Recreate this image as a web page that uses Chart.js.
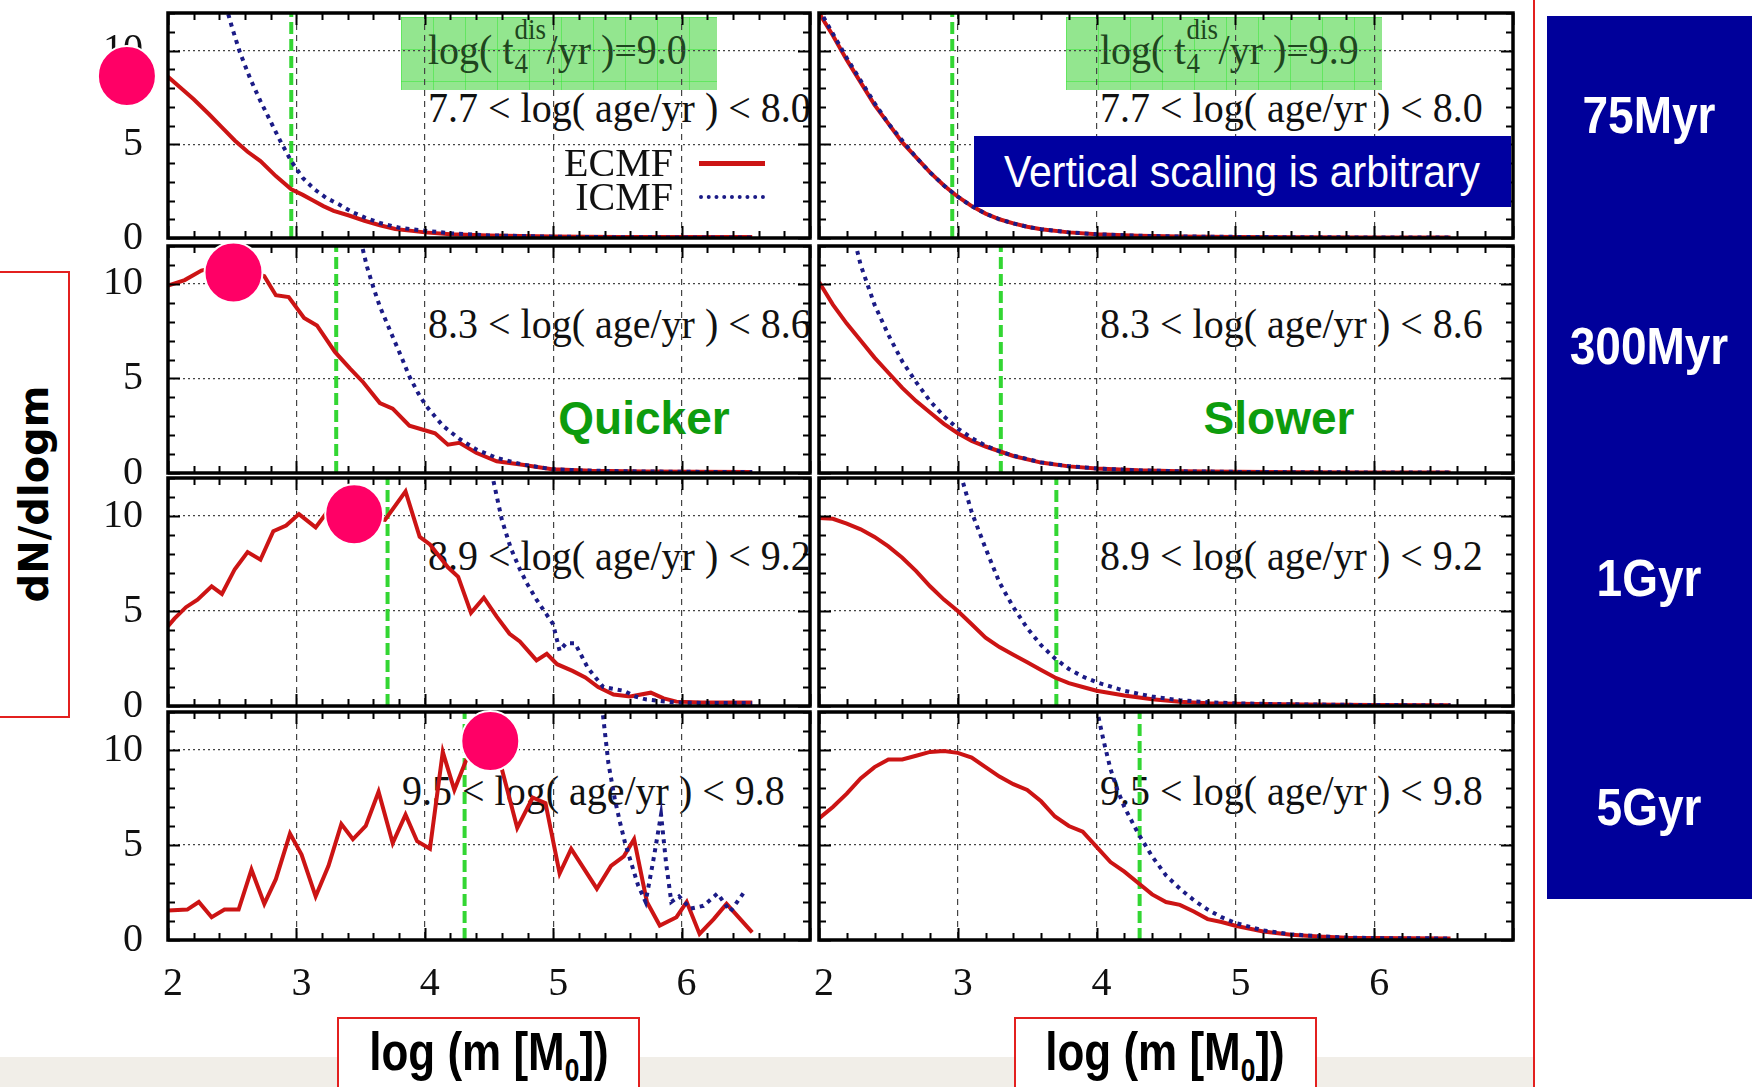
<!DOCTYPE html>
<html>
<head>
<meta charset="utf-8">
<title>ECMF vs ICMF</title>
<script src="https://cdn.jsdelivr.net/npm/chart.js@4.4.1/dist/chart.umd.min.js"></script>
<style>
  body { margin: 0; width: 1752px; height: 1087px; position: relative; overflow: hidden; background: #fff; }
  canvas { position: absolute; z-index: 2; }
  .t { position: absolute; white-space: nowrap; line-height: 1; }
  .back { z-index: 1; }
  .front { z-index: 3; }
  .serif { font-family: "Liberation Serif", serif; font-size: 40px; color: #111; }
  .sans { font-family: "Liberation Sans", Arial, sans-serif; font-weight: bold; }
  .greenbox { position: absolute; z-index: 1; top: 17px; width: 316px; height: 73px;
    background-color: #93e68f;
    background-image: linear-gradient(rgba(60,230,60,.55) 1px, transparent 1px),
                      linear-gradient(90deg, rgba(60,230,60,.55) 1px, transparent 1px);
    background-size: 32px 32px; }
  .ss { display: inline-block; position: relative; width: 33px; height: 0; }
  .ss span { position: absolute; left: 1px; font-size: 27px; line-height: 1; }
  .ss .up { top: -45px; }
  .ss .dn { top: -14px; }
  .agecol { position: absolute; z-index: 3; left: 1547px; top: 16px; width: 205px; height: 883px; background: #00009a; }
  .agecol div { position: absolute; left: 102px; color: #fff; font-size: 46px; transform: translate(-50%, -50%) scaleY(1.12); }
  .redbox { position: absolute; z-index: 3; border: 2px solid #e3201f; background: #fff; }
</style>
</head>
<body>

<div class="t back" style="left:0;top:1057px;width:1533px;height:30px;background:#f1eee8"></div>
<div class="t front" style="left:1533px;top:0;width:2px;height:1087px;background:#e3201f"></div>

<div class="greenbox" style="left:401px"></div>
<div class="greenbox" style="left:1066px"></div>
<div class="t back serif" id="t4a" style="left:428px;top:50px;transform:translateY(-50%) scaleY(1.08);color:#1e461e"></div>
<div class="t back serif" id="t4b" style="left:1100px;top:50px;transform:translateY(-50%) scaleY(1.08);color:#1e461e"></div>

<div class="t back sans" style="left:644px;top:418px;font-size:46px;color:#0d9c0d;transform:translate(-50%,-50%)">Quicker</div>
<div class="t back sans" style="left:1279px;top:418px;font-size:46px;color:#0d9c0d;transform:translate(-50%,-50%)">Slower</div>

<div class="t front" style="left:974px;top:136px;width:537px;height:71px;background:#0000a0"></div>
<div class="t front" style="left:1242px;top:172px;font-family:'Liberation Sans',Arial,sans-serif;font-size:41px;color:#fff;transform:translate(-50%,-50%) scaleY(1.08)">Vertical scaling is arbitrary</div>

<div class="t front serif" style="left:673px;top:163px;transform:translate(-100%,-50%)">ECMF</div>
<div class="t front serif" style="left:673px;top:197px;transform:translate(-100%,-50%)">ICMF</div>
<div class="t front" style="left:699px;top:161px;width:66px;height:0;border-top:5px solid #cc1414"></div>
<div class="t front" style="left:699px;top:195px;width:66px;height:0;border-top:4px dotted #1b1b86"></div>

<div class="agecol sans" id="agecol"></div>

<div class="redbox" style="left:-2px;top:271px;width:68px;height:443px"></div>
<div class="t front" style="left:34px;top:494px;font-family:'DejaVu Sans',sans-serif;font-weight:bold;font-size:40px;color:#000;transform:translate(-50%,-50%) rotate(-90deg)">dN/dlogm</div>

<div class="redbox" style="left:337px;top:1017px;width:299px;height:90px"></div>
<div class="redbox" style="left:1014px;top:1017px;width:299px;height:90px"></div>
<div class="t front sans" style="left:489px;top:1056px;font-size:44px;color:#000;transform:translate(-50%,-50%) scaleY(1.2)">log (m [M<sub style="font-size:0.6em">0</sub>])</div>
<div class="t front sans" style="left:1165px;top:1056px;font-size:44px;color:#000;transform:translate(-50%,-50%) scaleY(1.2)">log (m [M<sub style="font-size:0.6em">0</sub>])</div>

<script>
// axes
const xTicks = [2, 3, 4, 5, 6];
const yTicks = [0, 5, 10];
const xMin = 2, xMax = 7, yMax = 12;

// labels
const t4Values = ['9.0', '9.9'];
const ageBins = ['7.7 < log( age/yr ) < 8.0', '8.3 < log( age/yr ) < 8.6',
                 '8.9 < log( age/yr ) < 9.2', '9.5 < log( age/yr ) < 9.8'];
const ageNames = ['75Myr', '300Myr', '1Gyr', '5Gyr'];

// green dashed line (log m) per age row
const turnover = [2.96, 3.31, 3.71, 4.31];

// pink markers on the quicker column
const dotX = [1.68, 2.51, 3.45, 4.51];
const dotY = [8.64, 10.6, 10.09, 10.47];

// quicker disruption, log(t4/yr) = 9.0
const ecmfQ1 = [[2.0,8.6],[2.1,8.0],[2.2,7.4],[2.32,6.6],[2.42,5.9],[2.52,5.2],[2.62,4.6],[2.72,4.1],[2.84,3.3],[2.96,2.6],[3.05,2.3],[3.13,2.0],[3.21,1.7],[3.29,1.45],[3.41,1.2],[3.53,0.92],[3.65,0.68],[3.77,0.48],[3.9,0.38],[4.0,0.3],[4.2,0.2],[4.5,0.13],[5.0,0.08],[5.5,0.06],[6.0,0.05],[6.55,0.05]];
const icmfQ1 = [[2.45,12.4],[2.5,11.2],[2.56,9.9],[2.64,8.5],[2.72,7.3],[2.8,6.2],[2.88,5.1],[2.96,4.1],[3.05,3.2],[3.14,2.6],[3.23,2.15],[3.33,1.8],[3.43,1.4],[3.53,1.1],[3.65,0.8],[3.8,0.55],[4.0,0.39],[4.2,0.25],[4.5,0.14],[5.0,0.07],[5.5,0.04],[6.0,0.03],[6.55,0.03]];
const ecmfQ2 = [[2.0,9.9],[2.13,10.2],[2.26,10.7],[2.4,10.9],[2.5,10.8],[2.62,10.7],[2.75,10.4],[2.84,9.4],[2.94,9.3],[3.06,8.2],[3.16,7.8],[3.3,6.4],[3.42,5.5],[3.52,4.8],[3.65,3.7],[3.75,3.4],[3.88,2.5],[3.98,2.3],[4.08,2.1],[4.18,1.5],[4.27,1.6],[4.4,1.07],[4.56,0.62],[4.76,0.44],[4.99,0.2],[5.3,0.12],[5.7,0.08],[6.1,0.06],[6.55,0.05]];
const icmfQ2 = [[3.5,12.3],[3.55,10.9],[3.6,9.8],[3.65,8.8],[3.7,8.0],[3.75,7.2],[3.82,6.1],[3.88,5.1],[3.95,4.2],[4.01,3.55],[4.14,2.5],[4.27,1.8],[4.4,1.25],[4.56,0.8],[4.76,0.45],[4.99,0.2],[5.3,0.12],[5.7,0.08],[6.1,0.06],[6.55,0.05]];
const ecmfQ3 = [[2.0,4.2],[2.05,4.6],[2.14,5.2],[2.23,5.6],[2.34,6.3],[2.42,5.9],[2.52,7.2],[2.62,8.1],[2.72,7.7],[2.82,9.2],[2.92,9.5],[3.02,10.1],[3.15,9.4],[3.25,10.3],[3.35,10.0],[3.45,10.4],[3.57,9.9],[3.69,9.8],[3.85,11.3],[3.96,8.9],[4.04,8.5],[4.18,7.3],[4.26,6.8],[4.36,4.9],[4.46,5.7],[4.56,4.7],[4.66,3.8],[4.74,3.4],[4.87,2.4],[4.95,2.75],[5.03,2.2],[5.15,1.85],[5.25,1.5],[5.35,1.0],[5.47,0.6],[5.6,0.5],[5.76,0.7],[5.86,0.4],[5.96,0.23],[6.16,0.18],[6.55,0.18]];
const icmfQ3 = [[4.52,12.3],[4.6,9.8],[4.67,8.3],[4.74,7.2],[4.8,6.4],[4.87,5.6],[4.94,4.9],[5.0,4.3],[5.05,2.9],[5.1,3.3],[5.17,3.3],[5.27,2.0],[5.39,1.0],[5.47,0.9],[5.55,0.8],[5.64,0.5],[5.72,0.35],[5.85,0.25],[5.96,0.18],[6.2,0.16],[6.55,0.15]];
const ecmfQ4 = [[2.0,1.55],[2.15,1.6],[2.24,2.0],[2.34,1.2],[2.44,1.6],[2.55,1.6],[2.65,3.7],[2.75,1.9],[2.84,3.2],[2.95,5.6],[3.04,4.5],[3.15,2.3],[3.25,3.9],[3.35,6.1],[3.44,5.3],[3.54,6.0],[3.64,7.8],[3.75,5.1],[3.85,6.6],[3.94,5.2],[4.04,4.8],[4.14,9.9],[4.23,7.9],[4.33,9.6],[4.42,10.6],[4.53,12.4],[4.6,9.0],[4.72,5.9],[4.84,7.5],[4.94,7.2],[5.05,3.5],[5.14,4.8],[5.34,2.7],[5.45,3.9],[5.55,4.4],[5.63,5.3],[5.73,2.0],[5.83,0.76],[5.96,1.2],[6.04,2.0],[6.14,0.32],[6.25,1.1],[6.35,1.9],[6.55,0.4]];
const icmfQ4 = [[5.38,12.3],[5.43,9.3],[5.48,7.4],[5.52,6.2],[5.56,5.1],[5.61,4.0],[5.66,2.9],[5.72,2.0],[5.78,4.2],[5.84,6.6],[5.88,4.0],[5.92,2.0],[5.98,2.3],[6.07,1.65],[6.17,1.8],[6.28,2.45],[6.38,1.5],[6.48,2.45]];

// slower disruption, log(t4/yr) = 9.9
const ecmfS1 = [[2.0,12.0],[2.1,10.8],[2.2,9.5],[2.3,8.3],[2.4,7.1],[2.5,6.1],[2.6,5.1],[2.7,4.3],[2.8,3.5],[2.9,2.8],[3.0,2.2],[3.1,1.7],[3.2,1.3],[3.3,1.0],[3.4,0.78],[3.5,0.6],[3.6,0.47],[3.8,0.3],[4.0,0.2],[4.3,0.12],[4.6,0.08],[5.0,0.06],[5.5,0.04],[6.0,0.03],[6.55,0.03]];
const icmfS1 = [[2.0,12.2],[2.1,10.9],[2.2,9.6],[2.3,8.4],[2.4,7.2],[2.5,6.1],[2.6,5.2],[2.7,4.3],[2.8,3.5],[2.9,2.8],[3.0,2.2],[3.1,1.7],[3.2,1.3],[3.3,1.0],[3.4,0.78],[3.5,0.6],[3.6,0.47],[3.8,0.3],[4.0,0.2],[4.3,0.12],[4.6,0.08],[5.0,0.06],[5.5,0.04],[6.0,0.03],[6.55,0.03]];
const ecmfS2 = [[2.0,10.1],[2.1,8.9],[2.2,7.9],[2.3,7.0],[2.4,6.1],[2.5,5.3],[2.6,4.5],[2.7,3.8],[2.8,3.2],[2.9,2.6],[3.0,2.1],[3.1,1.7],[3.2,1.4],[3.3,1.15],[3.4,0.9],[3.6,0.55],[3.8,0.35],[4.0,0.24],[4.3,0.14],[4.6,0.09],[5.0,0.06],[5.5,0.04],[6.0,0.03],[6.55,0.03]];
const icmfS2 = [[2.26,12.2],[2.3,11.0],[2.4,8.9],[2.5,7.3],[2.6,5.9],[2.7,4.8],[2.8,3.8],[2.9,3.0],[3.0,2.35],[3.1,1.85],[3.2,1.45],[3.3,1.15],[3.4,0.92],[3.6,0.56],[3.8,0.36],[4.0,0.24],[4.3,0.14],[4.6,0.09],[5.0,0.06],[5.5,0.04],[6.0,0.03],[6.55,0.03]];
const ecmfS3 = [[2.0,9.9],[2.1,9.85],[2.2,9.6],[2.3,9.3],[2.4,8.9],[2.5,8.4],[2.6,7.8],[2.7,7.1],[2.8,6.3],[2.9,5.6],[3.0,5.0],[3.1,4.3],[3.2,3.6],[3.3,3.1],[3.4,2.7],[3.5,2.3],[3.6,1.9],[3.7,1.5],[3.8,1.2],[3.9,1.0],[4.0,0.8],[4.2,0.55],[4.4,0.35],[4.6,0.22],[4.8,0.15],[5.0,0.12],[5.5,0.08],[6.0,0.05],[6.55,0.04]];
const icmfS3 = [[3.02,12.2],[3.1,10.2],[3.2,8.3],[3.3,6.5],[3.4,5.2],[3.5,4.1],[3.6,3.2],[3.7,2.5],[3.8,1.95],[3.9,1.55],[4.0,1.25],[4.2,0.8],[4.4,0.5],[4.6,0.3],[4.8,0.2],[5.0,0.14],[5.5,0.08],[6.0,0.05],[6.55,0.04]];
const ecmfS4 = [[2.0,6.4],[2.1,7.0],[2.2,7.7],[2.3,8.5],[2.4,9.1],[2.5,9.5],[2.6,9.5],[2.7,9.7],[2.8,9.9],[2.9,9.95],[3.0,9.85],[3.1,9.6],[3.2,9.1],[3.3,8.6],[3.4,8.2],[3.5,7.9],[3.6,7.3],[3.7,6.5],[3.8,6.0],[3.9,5.7],[4.0,4.9],[4.1,4.1],[4.2,3.6],[4.3,3.0],[4.4,2.4],[4.5,2.0],[4.6,1.85],[4.7,1.5],[4.8,1.1],[4.9,0.95],[5.0,0.75],[5.2,0.45],[5.4,0.28],[5.6,0.18],[5.8,0.12],[6.0,0.1],[6.55,0.08]];
const icmfS4 = [[4.0,12.2],[4.05,10.5],[4.1,9.0],[4.15,7.9],[4.2,7.0],[4.3,5.6],[4.4,4.4],[4.5,3.4],[4.6,2.7],[4.7,2.1],[4.8,1.6],[4.9,1.2],[5.0,0.9],[5.2,0.5],[5.4,0.3],[5.6,0.2],[5.8,0.13],[6.0,0.1],[6.55,0.08]];

const ecmf = [[ecmfQ1, ecmfQ2, ecmfQ3, ecmfQ4], [ecmfS1, ecmfS2, ecmfS3, ecmfS4]];
const icmf = [[icmfQ1, icmfQ2, icmfQ3, icmfQ4], [icmfS1, icmfS2, icmfS3, icmfS4]];

// page layout (pixels)
const colBox = [{ left: 168, right: 810, canvasLeft: 0, textLeft: [428, 428, 428, 402] },
                { left: 819, right: 1513, canvasLeft: 790, textLeft: [1100, 1100, 1100, 1100] }];
const rowBox = [[13, 238], [246, 473], [478, 706], [712, 940]];
const textY = [108, 324, 556, 791];
const nameY = [115, 346, 578, 807];

const serifFont = { family: 'Liberation Serif', size: 40 };

// black frame with gnuplot-style inward ticks
const framePlugin = {
  id: 'frame',
  afterDatasetsDraw(chart) {
    const { ctx, chartArea: a, scales: { x, y } } = chart;
    ctx.save();
    ctx.strokeStyle = '#000';
    ctx.lineWidth = 2;
    ctx.beginPath();
    for (let i = 0; i <= 25; i++) {
      const px = Math.round(x.getPixelForValue(xMin + i * 0.2)) + 0.5;
      const len = i % 5 === 0 ? 12 : 7;
      ctx.moveTo(px, a.top); ctx.lineTo(px, a.top + len);
      ctx.moveTo(px, a.bottom); ctx.lineTo(px, a.bottom - len);
    }
    for (let v = 0; v <= yMax; v++) {
      const py = Math.round(y.getPixelForValue(v)) + 0.5;
      const len = v % 5 === 0 ? 12 : 7;
      ctx.moveTo(a.left, py); ctx.lineTo(a.left + len, py);
      ctx.moveTo(a.right, py); ctx.lineTo(a.right - len, py);
    }
    ctx.stroke();
    ctx.lineWidth = 3.5;
    ctx.strokeRect(a.left, a.top, a.right - a.left, a.bottom - a.top);
    ctx.restore();
  }
};

// pink marker, placed in data coordinates
const dotPlugin = {
  id: 'dot',
  afterDraw(chart, args, opts) {
    if (opts.x === undefined) return;
    const { ctx, scales: { x, y } } = chart;
    ctx.save();
    ctx.beginPath();
    ctx.ellipse(x.getPixelForValue(opts.x), y.getPixelForValue(opts.y), 29, 30, 0, 0, Math.PI * 2);
    ctx.fillStyle = '#ff0066';
    ctx.fill();
    ctx.lineWidth = 2;
    ctx.strokeStyle = '#fff';
    ctx.stroke();
    ctx.restore();
  }
};

const toXY = pts => pts.map(p => ({ x: p[0], y: p[1] }));

function makePanel(col, row) {
  const box = colBox[col];
  const last = row === rowBox.length - 1;
  const padTop = 40, padRight = 20;
  const padBottom = last ? 0 : 30;
  const xH = last ? 80 : 0;
  const yW = box.left - box.canvasLeft;

  const c = document.createElement('canvas');
  c.width = box.right + padRight - box.canvasLeft;
  c.height = padTop + (rowBox[row][1] - rowBox[row][0]) + padBottom + xH;
  c.style.left = box.canvasLeft + 'px';
  c.style.top = (rowBox[row][0] - padTop) + 'px';
  document.body.appendChild(c);

  new Chart(c, {
    type: 'line',
    data: {
      datasets: [
        { label: 'ICMF', data: toXY(icmf[col][row]), borderColor: '#1b1b86', borderWidth: 4,
          borderDash: [4, 5], pointRadius: 0, tension: 0 },
        { label: 'ECMF', data: toXY(ecmf[col][row]), borderColor: '#cc1414', borderWidth: 4,
          pointRadius: 0, tension: 0 },
        { label: 'turnover', data: [{ x: turnover[row], y: 0 }, { x: turnover[row], y: yMax }],
          borderColor: '#33d633', borderWidth: 4, borderDash: [12, 5], pointRadius: 0 }
      ]
    },
    options: {
      responsive: false,
      animation: false,
      events: [],
      layout: { padding: { top: padTop, right: padRight, bottom: padBottom, left: 0 } },
      plugins: {
        legend: { display: false },
        tooltip: { enabled: false },
        dot: col === 0 ? { x: dotX[row], y: dotY[row] } : false
      },
      scales: {
        x: {
          type: 'linear', min: xMin, max: xMax,
          afterBuildTicks: s => { s.ticks = xTicks.map(v => ({ value: v })); },
          ticks: { display: last, font: serifFont, color: '#111', padding: 20, labelOffset: 5,
                   maxRotation: 0, autoSkip: false },
          grid: { color: '#444', lineWidth: 1.2, drawTicks: false },
          border: { display: false, dash: [6, 5] },
          afterFit: s => { s.height = xH; s.paddingLeft = 0; s.paddingRight = 0; }
        },
        y: {
          min: 0, max: yMax,
          afterBuildTicks: s => { s.ticks = yTicks.map(v => ({ value: v })); },
          ticks: { display: col === 0, font: serifFont, color: '#111', padding: 25 },
          grid: { color: '#444', lineWidth: 1.2, drawTicks: false },
          border: { display: false, dash: [2, 3] },
          afterFit: s => { s.width = yW; s.paddingTop = 0; s.paddingBottom = 0; }
        }
      }
    },
    plugins: [framePlugin, dotPlugin]
  });

  const lab = document.createElement('div');
  lab.className = 't back serif';
  lab.style.left = box.textLeft[row] + 'px';
  lab.style.top = textY[row] + 'px';
  lab.style.transform = 'translateY(-50%) scaleY(1.08)';
  lab.textContent = ageBins[row];
  document.body.appendChild(lab);
}

for (let col = 0; col < 2; col++) {
  for (let row = 0; row < rowBox.length; row++) makePanel(col, row);
}

// log(t4dis/yr) boxes
['t4a', 't4b'].forEach((id, i) => {
  document.getElementById(id).innerHTML =
    'log( t<span class="ss"><span class="up">dis</span><span class="dn">4</span></span>/yr )=' + t4Values[i];
});

// age names on the right
const agecol = document.getElementById('agecol');
ageNames.forEach((name, i) => {
  const d = document.createElement('div');
  d.textContent = name;
  d.style.top = (nameY[i] - 16) + 'px';
  agecol.appendChild(d);
});
</script>
</body>
</html>
